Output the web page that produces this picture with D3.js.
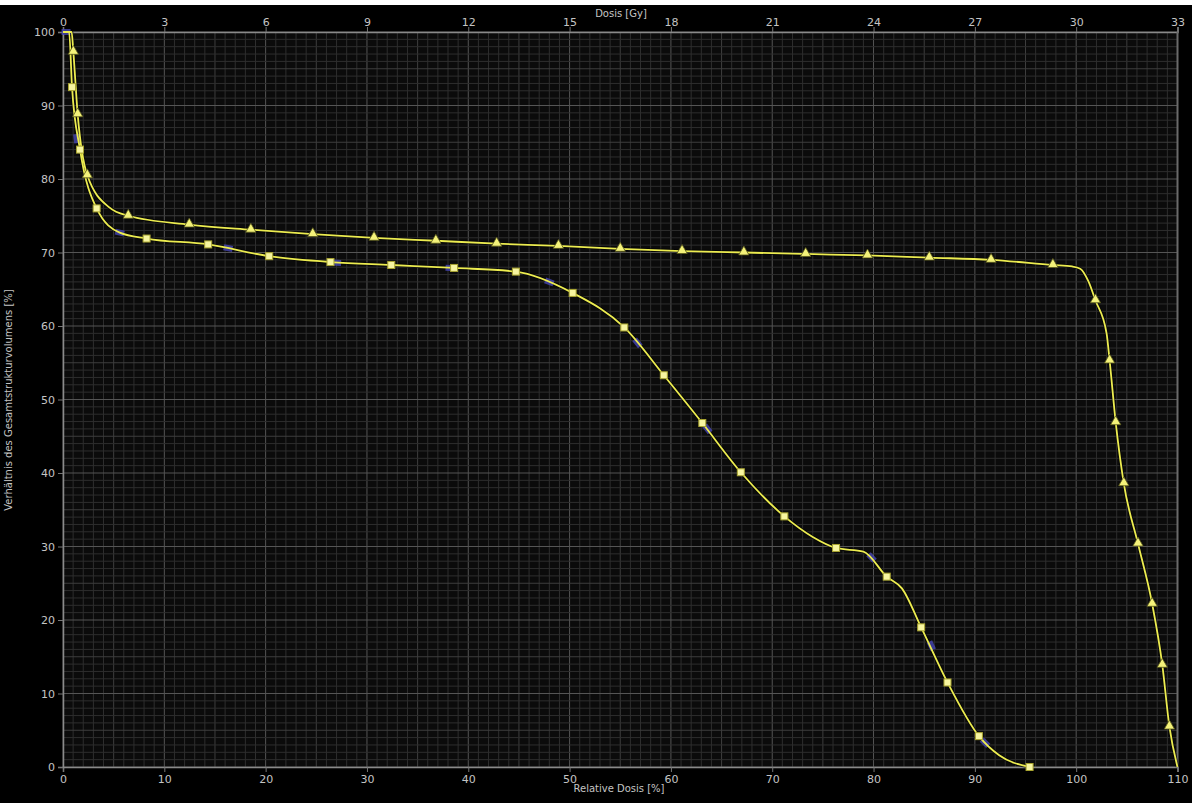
<!DOCTYPE html>
<html>
  <head>
    <meta charset="utf-8" />
    <style>
      body {
        margin: 0;
        background: #000;
      }
      svg {
        display: block;
      }
      text {
        font-family: "DejaVu Sans", sans-serif;
        fill: #c4c4c4;
      }
    </style>
  </head>

  <body>
    <svg width="1192" height="803"></svg>
  </body>

  <script src="https://d3js.org/d3.v7.min.js"></script>

  <script>
    // axis ranges and tick labels
    let relTicks = [0, 10, 20, 30, 40, 50, 60, 70, 80, 90, 100, 110];
    let gyTicks = [0, 3, 6, 9, 12, 15, 18, 21, 24, 27, 30, 33];
    let volTicks = [0, 10, 20, 30, 40, 50, 60, 70, 80, 90, 100];

    // [relative dose %, volume %] at the triangle markers
    let triangleMarkers = [
      [1.02, 97.3], [1.45, 88.8], [2.4, 80.5], [6.44, 75.0], [12.46, 73.8],
      [18.54, 73.1], [24.65, 72.5], [30.7, 72.0], [36.8, 71.6], [42.8, 71.2],
      [48.9, 70.9], [55.0, 70.5], [61.1, 70.2], [67.2, 70.0], [73.3, 69.8],
      [79.4, 69.6], [85.5, 69.3], [91.6, 69.0], [97.7, 68.3], [101.9, 63.5],
      [103.3, 55.3], [103.9, 46.9], [104.7, 38.6], [106.1, 30.4],
      [107.5, 22.2], [108.5, 13.9], [109.2, 5.5],
    ];
    // extra points of the triangle curve between markers
    let triangleCurve = [
      [0, 100], [0.85, 100], [4.6, 76.1], [99.6, 68.1], [100.4, 67.8],
      [101.2, 66.1], [103.0, 59.0], [110, 0],
    ];

    let squareMarkers = [
      [0.89, 92.5], [1.68, 84.0], [3.32, 76.0], [8.25, 71.9], [14.33, 71.1],
      [20.35, 69.5], [26.4, 68.7], [32.4, 68.3], [38.6, 67.9], [44.7, 67.4],
      [50.3, 64.5], [55.4, 59.8], [59.3, 53.3], [63.1, 46.8], [66.9, 40.1],
      [71.2, 34.1], [76.3, 29.8], [81.3, 25.9], [84.7, 19.0], [87.3, 11.5],
      [90.4, 4.2], [95.4, 0],
    ];
    let squareCurve = [
      [0, 100], [0.6, 100], [5.6, 72.7], [74.0, 31.3], [79.0, 29.3],
      [82.8, 24.3], [92.4, 1.6],
    ];

    // faint blue marks sitting under the square curve
    let blueMarks = [
      [0.3, 100], [1.35, 85.5], [5.6, 72.7], [16.3, 70.6], [27.0, 68.6],
      [38.2, 67.9], [48.0, 66.0], [56.7, 57.7], [63.6, 46.0], [79.8, 28.5],
      [85.7, 16.5], [91.0, 3.3],
    ];

    let svg = d3.select("svg");
    let margin = { top: 32, right: 14.5, bottom: 36, left: 63 };
    let width = 1192;
    let height = 803;

    let x = d3
      .scaleLinear()
      .domain([0, 110])
      .range([margin.left, width - margin.right]);
    let xGy = d3
      .scaleLinear()
      .domain([0, 33])
      .range([margin.left, width - margin.right]);
    let y = d3
      .scaleLinear()
      .domain([0, 100])
      .range([height - margin.bottom, margin.top]);

    // white strip on top of the screenshot
    svg.append("rect").attr("width", width).attr("height", 5).attr("fill", "#fff");

    svg
      .append("rect")
      .attr("x", x(0))
      .attr("y", y(100))
      .attr("width", x(110) - x(0))
      .attr("height", y(0) - y(100))
      .attr("fill", "#0b0b0b");

    let grid = svg.append("g");

    function lineColor(v) {
      if (v % 10 == 0) return "#555";
      if (v % 5 == 0) return "#3e3e3e";
      return "#2e2e2e";
    }

    // draw minor lines first so the major ones sit on top
    let xs = d3.range(0, 111).sort((a, b) => (a % 10 == 0) - (b % 10 == 0));
    let ys = d3.range(0, 101).sort((a, b) => (a % 10 == 0) - (b % 10 == 0));

    grid
      .selectAll(".vline")
      .data(xs)
      .join("line")
      .attr("class", "vline")
      .attr("x1", (d) => x(d))
      .attr("x2", (d) => x(d))
      .attr("y1", y(100))
      .attr("y2", y(0))
      .attr("stroke", (d) => lineColor(d))
      .attr("stroke-width", 1);

    grid
      .selectAll(".hline")
      .data(ys)
      .join("line")
      .attr("class", "hline")
      .attr("x1", x(0))
      .attr("x2", x(110))
      .attr("y1", (d) => y(d))
      .attr("y2", (d) => y(d))
      .attr("stroke", (d) => lineColor(d))
      .attr("stroke-width", 1);

    // axes
    let bottomAxis = svg
      .append("g")
      .attr("transform", `translate(0, ${y(0)})`)
      .call(d3.axisBottom(x).tickValues(relTicks).tickSize(5).tickPadding(3));

    let topAxis = svg
      .append("g")
      .attr("transform", `translate(0, ${y(100)})`)
      .call(d3.axisTop(xGy).tickValues(gyTicks).tickSize(5).tickPadding(1));

    let leftAxis = svg
      .append("g")
      .attr("transform", `translate(${x(0)}, 0)`)
      .call(d3.axisLeft(y).tickValues(volTicks).tickSize(5).tickPadding(3));

    [bottomAxis, topAxis, leftAxis].forEach((g) => {
      g.select(".domain").attr("stroke", "#8a8a8a").attr("stroke-width", 1.5);
      g.selectAll(".tick line").attr("stroke", "#777");
      g.selectAll(".tick text")
        .style("font-size", "11px")
        .style("font-family", "DejaVu Sans, sans-serif")
        .attr("fill", "#c4c4c4");
    });

    // right border
    svg
      .append("line")
      .attr("x1", x(110))
      .attr("x2", x(110))
      .attr("y1", y(100))
      .attr("y2", y(0))
      .attr("stroke", "#6a6a6a")
      .attr("stroke-width", 2);

    // titles
    svg
      .append("text")
      .attr("x", 621)
      .attr("y", 17)
      .attr("text-anchor", "middle")
      .style("font-size", "10px")
      .text("Dosis [Gy]");

    svg
      .append("text")
      .attr("x", 619)
      .attr("y", 792)
      .attr("text-anchor", "middle")
      .style("font-size", "10px")
      .text("Relative Dosis [%]");

    svg
      .append("text")
      .attr("transform", `translate(12, 400) rotate(-90)`)
      .attr("text-anchor", "middle")
      .style("font-size", "10px")
      .text("Verhältnis des Gesamtstrukturvolumens [%]");

    // curves
    let line = d3
      .line()
      .x((d) => x(d[0]))
      .y((d) => y(d[1]))
      .curve(d3.curveMonotoneX);

    function merged(a, b) {
      return a.concat(b).sort((p, q) => p[0] - q[0]);
    }

    let triPath = merged(triangleMarkers, triangleCurve);
    let sqPath = merged(squareMarkers, squareCurve);

    let outlines = svg.append("g");
    let blue = svg.append("g");
    let curves = svg.append("g");

    [triPath, sqPath].forEach((pts) => {
      outlines
        .append("path")
        .attr("d", line(pts))
        .attr("fill", "none")
        .attr("stroke", "#000")
        .attr("stroke-opacity", 0.6)
        .attr("stroke-width", 3.5);
      curves
        .append("path")
        .attr("d", line(pts))
        .attr("fill", "none")
        .attr("stroke", "#ecec50")
        .attr("stroke-width", 1.8);
    });

    // blue marks along the square curve, turned with the local slope
    blue
      .selectAll("line")
      .data(blueMarks)
      .join("line")
      .each(function (d) {
        let i = sqPath.findIndex((p) => p[0] > d[0]);
        let a = sqPath[Math.max(i - 1, 0)];
        let b = sqPath[Math.min(i, sqPath.length - 1)];
        let dx = x(b[0]) - x(a[0]);
        let dy = y(b[1]) - y(a[1]);
        let len = Math.hypot(dx, dy) || 1;
        let ux = (dx / len) * 4.5;
        let uy = (dy / len) * 4.5;
        d3.select(this)
          .attr("x1", x(d[0]) - ux)
          .attr("y1", y(d[1]) - uy)
          .attr("x2", x(d[0]) + ux)
          .attr("y2", y(d[1]) + uy);
      })
      .attr("stroke", "#4646b4")
      .attr("stroke-opacity", 0.8)
      .attr("stroke-width", 6);

    // markers
    svg
      .append("g")
      .selectAll("path")
      .data(triangleMarkers)
      .join("path")
      .attr("d", d3.symbol(d3.symbolTriangle, 46))
      .attr("transform", (d) => `translate(${x(d[0])}, ${y(d[1]) - 0.5})`)
      .attr("fill", "#f4f27a")
      .attr("stroke", "#55551a")
      .attr("stroke-width", 0.8);

    svg
      .append("g")
      .selectAll("rect")
      .data(squareMarkers)
      .join("rect")
      .attr("x", (d) => x(d[0]) - 3.5)
      .attr("y", (d) => y(d[1]) - 3.5)
      .attr("width", 7)
      .attr("height", 7)
      .attr("fill", "#f7f5a0")
      .attr("stroke", "#a8a430")
      .attr("stroke-width", 1);
  </script>
</html>
